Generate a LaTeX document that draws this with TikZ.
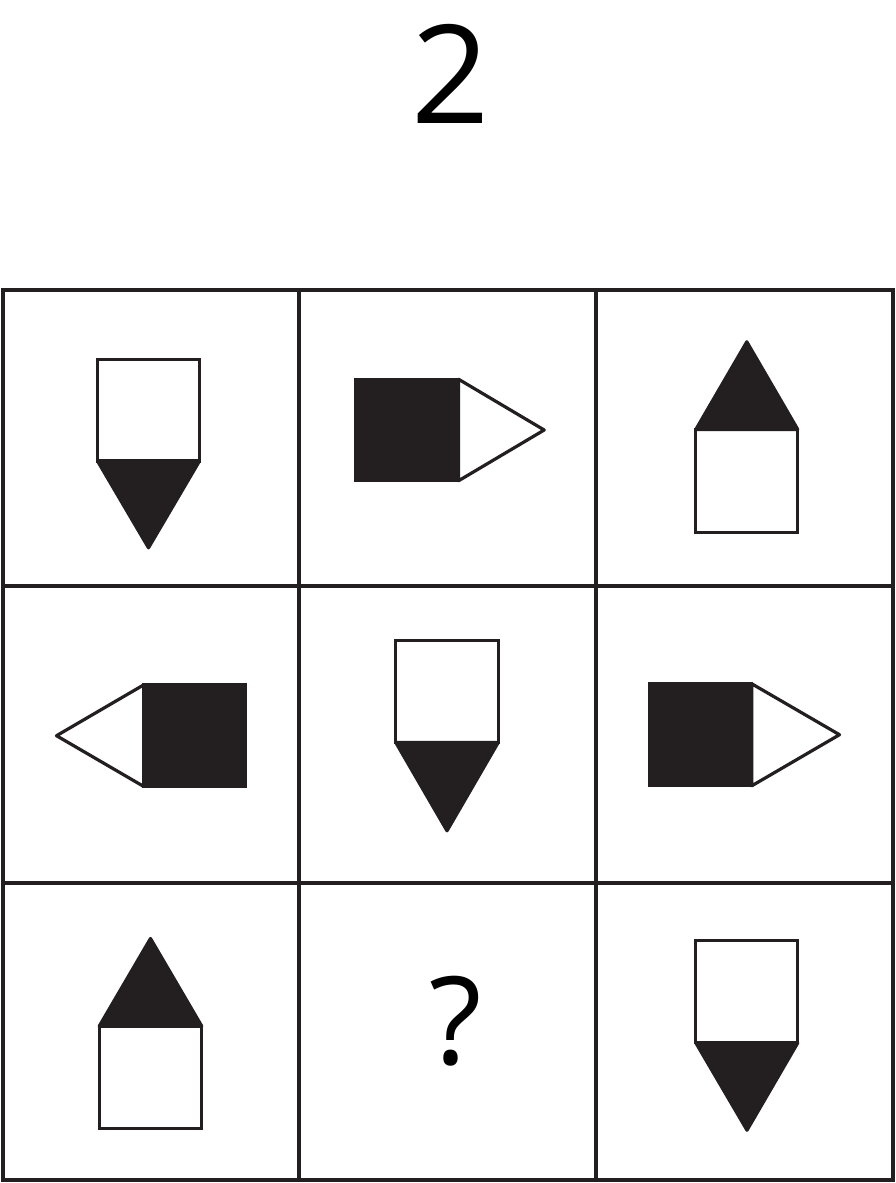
\documentclass[tikz,border=0pt]{standalone}
\usepackage{fontspec}
\setmainfont{Open Sans}
\definecolor{ink}{HTML}{231F20}
\tikzset{
  gridline/.style={line width=3.2pt, draw=ink},
  shp/.style={line width=3.2pt, draw=ink, line join=round},
  blk/.style={shp, fill=ink},
  wht/.style={shp, fill=white},
  sqr/.style={line width=3.2pt, draw=ink, line join=miter},
}
\begin{document}
\begin{tikzpicture}[x=1pt,y=-1pt]
\useasboundingbox (0,0) rectangle (896,1183);
% title
\node[inner sep=0pt, font=\fontsize{137}{137}\selectfont, text=black] (title) at (451,74) {2};
% grid
\foreach \gx in {3,299,596,893} \draw[gridline] (\gx,290) -- (\gx,1180);
\foreach \gy in {290,586,883,1180} \draw[gridline] (3,\gy) -- (893,\gy);
\draw[gridline, line cap=rect] (3,290) rectangle (893,1180);
% r1c1: white square, black triangle down
\draw[sqr, fill=white] (97.5,359.8) rectangle (199.5,461);
\draw[blk] (97.5,461) -- (199.5,461) -- (148.5,547.8) -- cycle;
% r1c2: black square, white triangle right
\draw[wht] (458.5,379.2) -- (544.2,430) -- (458.5,480.8) -- cycle;
\draw[sqr, fill=ink] (355.5,379.2) rectangle (458.5,480.8);
% r1c3: white square, black triangle up
\draw[sqr, fill=white] (695.8,429.5) rectangle (797.8,532.2);
\draw[blk] (695.8,429.5) -- (797.8,429.5) -- (746.8,341.8) -- cycle;
% r2c1: black square, white triangle left
\draw[wht] (143.8,684.8) -- (56.5,735.7) -- (143.8,786.5) -- cycle;
\draw[sqr, fill=ink] (143.8,684.8) rectangle (245.8,786.5);
% r2c2: white square, black triangle down
\draw[sqr, fill=white] (395.8,640.5) rectangle (498.2,742.5);
\draw[blk] (395.8,742.5) -- (498.2,742.5) -- (447,830.8) -- cycle;
% r2c3: black square, white triangle right
\draw[wht] (751.8,683.8) -- (839.5,734.7) -- (751.8,785.8) -- cycle;
\draw[sqr, fill=ink] (649.8,683.8) rectangle (751.8,785.8);
% r3c1: white square, black triangle up
\draw[sqr, fill=white] (99.2,1026.2) rectangle (201.8,1128.8);
\draw[blk] (99.2,1026.2) -- (201.8,1026.2) -- (150.5,938.5) -- cycle;
% r3c2: question mark
\node[inner sep=0pt, font=\fontsize{122}{122}\selectfont, text=black] (qmark) at (455.8,1021.5) {?};
% r3c3: white square, black triangle down
\draw[sqr, fill=white] (695.8,940.8) rectangle (797.8,1042.8);
\draw[blk] (695.8,1042.8) -- (797.8,1042.8) -- (747,1130.2) -- cycle;
\end{tikzpicture}
\end{document}
